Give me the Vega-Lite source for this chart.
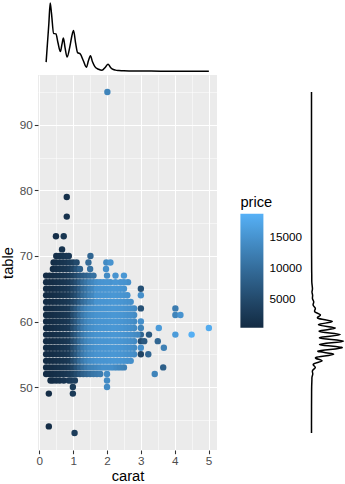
{
"$schema": "https://vega.github.io/schema/vega-lite/v6.json",
"padding": 0,
"background": "white",
"config": {"font": "Liberation Sans", "view": {"stroke": null}},
"datasets": {
"pts": [
{"carat":0.2,"table":52,"price":400},{"carat":0.3,"table":52,"price":500},{"carat":0.4,"table":52,"price":700},{"carat":0.5,"table":52,"price":1000},{"carat":0.6,"table":52,"price":1300},{"carat":0.7,"table":52,"price":1700},{"carat":0.8,"table":52,"price":2100},{"carat":0.9,"table":52,"price":2600},
{"carat":0.2,"table":53,"price":400},{"carat":0.3,"table":53,"price":500},{"carat":0.4,"table":53,"price":700},{"carat":0.5,"table":53,"price":1000},{"carat":0.6,"table":53,"price":1300},{"carat":0.7,"table":53,"price":1700},{"carat":0.8,"table":53,"price":2100},{"carat":0.9,"table":53,"price":2600},
{"carat":0.2,"table":54,"price":400},{"carat":0.3,"table":54,"price":500},{"carat":0.4,"table":54,"price":700},{"carat":0.5,"table":54,"price":1000},{"carat":0.6,"table":54,"price":1300},{"carat":0.7,"table":54,"price":1700},{"carat":0.8,"table":54,"price":2100},{"carat":0.9,"table":54,"price":2600},
{"carat":0.2,"table":55,"price":400},{"carat":0.3,"table":55,"price":500},{"carat":0.4,"table":55,"price":700},{"carat":0.5,"table":55,"price":1000},{"carat":0.6,"table":55,"price":1300},{"carat":0.7,"table":55,"price":1700},{"carat":0.8,"table":55,"price":2100},{"carat":0.9,"table":55,"price":2600},
{"carat":0.2,"table":56,"price":400},{"carat":0.3,"table":56,"price":500},{"carat":0.4,"table":56,"price":700},{"carat":0.5,"table":56,"price":1000},{"carat":0.6,"table":56,"price":1300},{"carat":0.7,"table":56,"price":1700},{"carat":0.8,"table":56,"price":2100},{"carat":0.9,"table":56,"price":2600},
{"carat":0.2,"table":57,"price":400},{"carat":0.3,"table":57,"price":500},{"carat":0.4,"table":57,"price":700},{"carat":0.5,"table":57,"price":1000},{"carat":0.6,"table":57,"price":1300},{"carat":0.7,"table":57,"price":1700},{"carat":0.8,"table":57,"price":2100},{"carat":0.9,"table":57,"price":2600},
{"carat":0.2,"table":58,"price":400},{"carat":0.3,"table":58,"price":500},{"carat":0.4,"table":58,"price":700},{"carat":0.5,"table":58,"price":1000},{"carat":0.6,"table":58,"price":1300},{"carat":0.7,"table":58,"price":1700},{"carat":0.8,"table":58,"price":2100},{"carat":0.9,"table":58,"price":2600},
{"carat":0.2,"table":59,"price":400},{"carat":0.3,"table":59,"price":500},{"carat":0.4,"table":59,"price":700},{"carat":0.5,"table":59,"price":1000},{"carat":0.6,"table":59,"price":1300},{"carat":0.7,"table":59,"price":1700},{"carat":0.8,"table":59,"price":2100},{"carat":0.9,"table":59,"price":2600},
{"carat":0.2,"table":60,"price":400},{"carat":0.3,"table":60,"price":500},{"carat":0.4,"table":60,"price":700},{"carat":0.5,"table":60,"price":1000},{"carat":0.6,"table":60,"price":1300},{"carat":0.7,"table":60,"price":1700},{"carat":0.8,"table":60,"price":2100},{"carat":0.9,"table":60,"price":2600},
{"carat":0.2,"table":61,"price":400},{"carat":0.3,"table":61,"price":500},{"carat":0.4,"table":61,"price":700},{"carat":0.5,"table":61,"price":1000},{"carat":0.6,"table":61,"price":1300},{"carat":0.7,"table":61,"price":1700},{"carat":0.8,"table":61,"price":2100},{"carat":0.9,"table":61,"price":2600},
{"carat":0.2,"table":62,"price":400},{"carat":0.3,"table":62,"price":500},{"carat":0.4,"table":62,"price":700},{"carat":0.5,"table":62,"price":1000},{"carat":0.6,"table":62,"price":1300},{"carat":0.7,"table":62,"price":1700},{"carat":0.8,"table":62,"price":2100},{"carat":0.9,"table":62,"price":2600},
{"carat":0.2,"table":63,"price":400},{"carat":0.3,"table":63,"price":500},{"carat":0.4,"table":63,"price":700},{"carat":0.5,"table":63,"price":1000},{"carat":0.6,"table":63,"price":1300},{"carat":0.7,"table":63,"price":1700},{"carat":0.8,"table":63,"price":2100},{"carat":0.9,"table":63,"price":2600},
{"carat":0.2,"table":64,"price":400},{"carat":0.3,"table":64,"price":500},{"carat":0.4,"table":64,"price":700},{"carat":0.5,"table":64,"price":1000},{"carat":0.6,"table":64,"price":1300},{"carat":0.7,"table":64,"price":1700},{"carat":0.8,"table":64,"price":2100},{"carat":0.9,"table":64,"price":2600},
{"carat":0.2,"table":65,"price":400},{"carat":0.3,"table":65,"price":500},{"carat":0.4,"table":65,"price":700},{"carat":0.5,"table":65,"price":1000},{"carat":0.6,"table":65,"price":1300},{"carat":0.7,"table":65,"price":1700},{"carat":0.8,"table":65,"price":2100},{"carat":0.9,"table":65,"price":2600},
{"carat":0.2,"table":66,"price":400},{"carat":0.3,"table":66,"price":500},{"carat":0.4,"table":66,"price":700},{"carat":0.5,"table":66,"price":1000},{"carat":0.6,"table":66,"price":1300},{"carat":0.7,"table":66,"price":1700},{"carat":0.8,"table":66,"price":2100},{"carat":0.9,"table":66,"price":2600},
{"carat":0.2,"table":67,"price":400},{"carat":0.3,"table":67,"price":500},{"carat":0.4,"table":67,"price":700},{"carat":0.5,"table":67,"price":1000},{"carat":0.6,"table":67,"price":1300},{"carat":0.7,"table":67,"price":1700},{"carat":0.8,"table":67,"price":2100},{"carat":0.9,"table":67,"price":2600},
{"carat":0.4,"table":68,"price":700},{"carat":0.5,"table":68,"price":1000},{"carat":0.6,"table":68,"price":1300},{"carat":0.7,"table":68,"price":1700},{"carat":0.8,"table":68,"price":2100},{"carat":0.9,"table":68,"price":2600},
{"carat":0.42,"table":69,"price":700},{"carat":0.5,"table":69,"price":1000},{"carat":0.6,"table":69,"price":1300},{"carat":0.7,"table":69,"price":1700},{"carat":0.8,"table":69,"price":2100},{"carat":0.9,"table":69,"price":2600},
{"carat":0.5,"table":70,"price":1000},{"carat":0.6,"table":70,"price":1300},{"carat":0.7,"table":70,"price":1700},{"carat":0.8,"table":70,"price":2100},{"carat":0.87,"table":70,"price":2400},
{"carat":0.67,"table":71,"price":1600},{"carat":0.49,"table":73,"price":1000},{"carat":0.72,"table":73,"price":2000},{"carat":0.81,"table":76,"price":1500},{"carat":0.81,"table":79,"price":1300},{"carat":2.01,"table":95,"price":13000},
{"carat":0.33,"table":51,"price":600},{"carat":0.4,"table":51,"price":700},{"carat":0.5,"table":51,"price":1000},{"carat":0.6,"table":51,"price":1300},{"carat":0.72,"table":51,"price":1800},{"carat":0.87,"table":51,"price":2400},{"carat":0.95,"table":51,"price":2800},{"carat":1.05,"table":51,"price":3300},{"carat":2.0,"table":51,"price":14000},
{"carat":0.99,"table":50,"price":2900},{"carat":2.0,"table":50,"price":14000},{"carat":0.28,"table":49,"price":700},{"carat":0.99,"table":49,"price":2600},{"carat":0.28,"table":44,"price":800},{"carat":1.04,"table":43,"price":3000},
{"carat":1.0,"table":52,"price":3500},{"carat":1.1,"table":52,"price":5000},{"carat":1.2,"table":52,"price":6500},{"carat":1.3,"table":52,"price":8000},{"carat":1.4,"table":52,"price":9000},{"carat":1.5,"table":52,"price":10000},{"carat":1.6,"table":52,"price":11000},{"carat":1.7,"table":52,"price":11500},{"carat":1.8,"table":52,"price":12000},{"carat":2.0,"table":52,"price":14000},{"carat":3.41,"table":52,"price":13000},
{"carat":1.0,"table":53,"price":4000},{"carat":1.1,"table":53,"price":6000},{"carat":1.2,"table":53,"price":8000},{"carat":1.3,"table":53,"price":10000},{"carat":1.4,"table":53,"price":11500},{"carat":1.5,"table":53,"price":12500},{"carat":1.6,"table":53,"price":13000},{"carat":1.7,"table":53,"price":13500},{"carat":1.8,"table":53,"price":14000},{"carat":1.9,"table":53,"price":14500},{"carat":2.0,"table":53,"price":14500},{"carat":2.1,"table":53,"price":14500},{"carat":2.2,"table":53,"price":14000},{"carat":2.3,"table":53,"price":13500},{"carat":2.4,"table":53,"price":13000},{"carat":2.5,"table":53,"price":12500},{"carat":3.66,"table":53,"price":8000},
{"carat":1.0,"table":54,"price":5000},{"carat":1.1,"table":54,"price":7000},{"carat":1.2,"table":54,"price":9500},{"carat":1.3,"table":54,"price":11500},{"carat":1.4,"table":54,"price":13000},{"carat":1.5,"table":54,"price":14000},{"carat":1.6,"table":54,"price":14500},{"carat":1.7,"table":54,"price":15000},{"carat":1.8,"table":54,"price":15200},{"carat":1.9,"table":54,"price":15300},{"carat":2.0,"table":54,"price":15300},{"carat":2.1,"table":54,"price":15400},{"carat":2.2,"table":54,"price":15500},{"carat":2.3,"table":54,"price":15400},{"carat":2.4,"table":54,"price":15300},{"carat":2.5,"table":54,"price":15000},{"carat":2.6,"table":54,"price":14800},{"carat":2.7,"table":54,"price":14500},
{"carat":1.0,"table":55,"price":5000},{"carat":1.1,"table":55,"price":7000},{"carat":1.2,"table":55,"price":9500},{"carat":1.3,"table":55,"price":11500},{"carat":1.4,"table":55,"price":13000},{"carat":1.5,"table":55,"price":14000},{"carat":1.6,"table":55,"price":14500},{"carat":1.7,"table":55,"price":15000},{"carat":1.8,"table":55,"price":15200},{"carat":1.9,"table":55,"price":15300},{"carat":2.0,"table":55,"price":15300},{"carat":2.1,"table":55,"price":15400},{"carat":2.2,"table":55,"price":15500},{"carat":2.3,"table":55,"price":15400},{"carat":2.4,"table":55,"price":15300},{"carat":2.5,"table":55,"price":15000},{"carat":2.6,"table":55,"price":14800},{"carat":2.7,"table":55,"price":14500},{"carat":2.8,"table":55,"price":14000},{"carat":3.0,"table":55,"price":4000},{"carat":3.22,"table":55,"price":9000},
{"carat":1.0,"table":56,"price":5000},{"carat":1.1,"table":56,"price":7000},{"carat":1.2,"table":56,"price":9500},{"carat":1.3,"table":56,"price":11500},{"carat":1.4,"table":56,"price":13000},{"carat":1.5,"table":56,"price":14000},{"carat":1.6,"table":56,"price":14500},{"carat":1.7,"table":56,"price":15000},{"carat":1.8,"table":56,"price":15200},{"carat":1.9,"table":56,"price":15300},{"carat":2.0,"table":56,"price":15300},{"carat":2.1,"table":56,"price":15400},{"carat":2.2,"table":56,"price":15500},{"carat":2.3,"table":56,"price":15400},{"carat":2.4,"table":56,"price":15300},{"carat":2.5,"table":56,"price":15000},{"carat":2.6,"table":56,"price":14800},{"carat":2.7,"table":56,"price":14500},{"carat":2.8,"table":56,"price":14000},{"carat":3.0,"table":56,"price":14500},{"carat":3.68,"table":56,"price":12500},
{"carat":1.0,"table":57,"price":5000},{"carat":1.1,"table":57,"price":7000},{"carat":1.2,"table":57,"price":9500},{"carat":1.3,"table":57,"price":11500},{"carat":1.4,"table":57,"price":13000},{"carat":1.5,"table":57,"price":14000},{"carat":1.6,"table":57,"price":14500},{"carat":1.7,"table":57,"price":15000},{"carat":1.8,"table":57,"price":15200},{"carat":1.9,"table":57,"price":15300},{"carat":2.0,"table":57,"price":15300},{"carat":2.1,"table":57,"price":15400},{"carat":2.2,"table":57,"price":15500},{"carat":2.3,"table":57,"price":15400},{"carat":2.4,"table":57,"price":15300},{"carat":2.5,"table":57,"price":15000},{"carat":2.6,"table":57,"price":14800},{"carat":2.7,"table":57,"price":14500},{"carat":2.8,"table":57,"price":14000},{"carat":3.0,"table":57,"price":5500},{"carat":3.1,"table":57,"price":7000},{"carat":3.5,"table":57,"price":9000},
{"carat":1.0,"table":58,"price":5000},{"carat":1.1,"table":58,"price":7000},{"carat":1.2,"table":58,"price":9500},{"carat":1.3,"table":58,"price":11500},{"carat":1.4,"table":58,"price":13000},{"carat":1.5,"table":58,"price":14000},{"carat":1.6,"table":58,"price":14500},{"carat":1.7,"table":58,"price":15000},{"carat":1.8,"table":58,"price":15200},{"carat":1.9,"table":58,"price":15300},{"carat":2.0,"table":58,"price":15300},{"carat":2.1,"table":58,"price":15400},{"carat":2.2,"table":58,"price":15500},{"carat":2.3,"table":58,"price":15400},{"carat":2.4,"table":58,"price":15300},{"carat":2.5,"table":58,"price":15000},{"carat":2.6,"table":58,"price":14800},{"carat":2.7,"table":58,"price":14500},{"carat":2.8,"table":58,"price":14000},{"carat":2.9,"table":58,"price":13500},{"carat":3.0,"table":58,"price":9000},{"carat":3.24,"table":58,"price":7000},{"carat":4.02,"table":58,"price":16000},{"carat":4.5,"table":58,"price":18531},
{"carat":1.0,"table":59,"price":5000},{"carat":1.1,"table":59,"price":7000},{"carat":1.2,"table":59,"price":9500},{"carat":1.3,"table":59,"price":11500},{"carat":1.4,"table":59,"price":13000},{"carat":1.5,"table":59,"price":14000},{"carat":1.6,"table":59,"price":14500},{"carat":1.7,"table":59,"price":15000},{"carat":1.8,"table":59,"price":15200},{"carat":1.9,"table":59,"price":15300},{"carat":2.0,"table":59,"price":15300},{"carat":2.1,"table":59,"price":15400},{"carat":2.2,"table":59,"price":15500},{"carat":2.3,"table":59,"price":15400},{"carat":2.4,"table":59,"price":15300},{"carat":2.5,"table":59,"price":15000},{"carat":2.6,"table":59,"price":14800},{"carat":2.7,"table":59,"price":14500},{"carat":2.8,"table":59,"price":14000},{"carat":3.0,"table":59,"price":13000},{"carat":3.53,"table":59,"price":16000},{"carat":5.01,"table":59,"price":18018},
{"carat":1.0,"table":60,"price":5000},{"carat":1.1,"table":60,"price":7000},{"carat":1.2,"table":60,"price":9500},{"carat":1.3,"table":60,"price":11500},{"carat":1.4,"table":60,"price":13000},{"carat":1.5,"table":60,"price":14000},{"carat":1.6,"table":60,"price":14500},{"carat":1.7,"table":60,"price":15000},{"carat":1.8,"table":60,"price":15200},{"carat":1.9,"table":60,"price":15300},{"carat":2.0,"table":60,"price":15300},{"carat":2.1,"table":60,"price":15400},{"carat":2.2,"table":60,"price":15500},{"carat":2.3,"table":60,"price":15400},{"carat":2.4,"table":60,"price":15300},{"carat":2.5,"table":60,"price":15000},{"carat":2.6,"table":60,"price":14800},{"carat":2.7,"table":60,"price":14500},{"carat":2.8,"table":60,"price":14000},{"carat":3.0,"table":60,"price":14500},
{"carat":1.0,"table":61,"price":5000},{"carat":1.1,"table":61,"price":7000},{"carat":1.2,"table":61,"price":9500},{"carat":1.3,"table":61,"price":11500},{"carat":1.4,"table":61,"price":13000},{"carat":1.5,"table":61,"price":14000},{"carat":1.6,"table":61,"price":14500},{"carat":1.7,"table":61,"price":15000},{"carat":1.8,"table":61,"price":15200},{"carat":1.9,"table":61,"price":15300},{"carat":2.0,"table":61,"price":15300},{"carat":2.1,"table":61,"price":15400},{"carat":2.2,"table":61,"price":15500},{"carat":2.3,"table":61,"price":15400},{"carat":2.4,"table":61,"price":15300},{"carat":2.5,"table":61,"price":15000},{"carat":2.6,"table":61,"price":14800},{"carat":2.7,"table":61,"price":14500},{"carat":2.8,"table":61,"price":14000},{"carat":4.02,"table":61,"price":13000},{"carat":4.17,"table":61,"price":15000},
{"carat":1.0,"table":62,"price":5000},{"carat":1.1,"table":62,"price":7000},{"carat":1.2,"table":62,"price":9500},{"carat":1.3,"table":62,"price":11500},{"carat":1.4,"table":62,"price":13000},{"carat":1.5,"table":62,"price":14000},{"carat":1.6,"table":62,"price":14500},{"carat":1.7,"table":62,"price":15000},{"carat":1.8,"table":62,"price":15200},{"carat":1.9,"table":62,"price":15300},{"carat":2.0,"table":62,"price":15300},{"carat":2.1,"table":62,"price":15400},{"carat":2.2,"table":62,"price":15500},{"carat":2.3,"table":62,"price":15400},{"carat":2.4,"table":62,"price":15300},{"carat":2.5,"table":62,"price":15000},{"carat":2.6,"table":62,"price":14800},{"carat":2.7,"table":62,"price":14500},{"carat":2.8,"table":62,"price":14000},{"carat":3.0,"table":62,"price":6000},{"carat":4.02,"table":62,"price":12000},
{"carat":1.0,"table":63,"price":4000},{"carat":1.1,"table":63,"price":5500},{"carat":1.2,"table":63,"price":7500},{"carat":1.3,"table":63,"price":9500},{"carat":1.4,"table":63,"price":11000},{"carat":1.5,"table":63,"price":12500},{"carat":1.6,"table":63,"price":13500},{"carat":1.7,"table":63,"price":15000},{"carat":1.8,"table":63,"price":15200},{"carat":1.9,"table":63,"price":15300},{"carat":2.0,"table":63,"price":15300},{"carat":2.1,"table":63,"price":15400},{"carat":2.2,"table":63,"price":15500},{"carat":2.3,"table":63,"price":15400},{"carat":2.4,"table":63,"price":15300},{"carat":2.5,"table":63,"price":15000},{"carat":2.6,"table":63,"price":14800},{"carat":2.7,"table":63,"price":14500},
{"carat":1.0,"table":64,"price":4000},{"carat":1.1,"table":64,"price":5500},{"carat":1.2,"table":64,"price":7500},{"carat":1.3,"table":64,"price":9500},{"carat":1.4,"table":64,"price":11000},{"carat":1.5,"table":64,"price":12500},{"carat":1.6,"table":64,"price":13500},{"carat":1.7,"table":64,"price":15000},{"carat":1.8,"table":64,"price":15200},{"carat":1.9,"table":64,"price":15300},{"carat":2.0,"table":64,"price":15300},{"carat":2.1,"table":64,"price":15400},{"carat":2.2,"table":64,"price":15500},{"carat":2.3,"table":64,"price":15400},{"carat":2.4,"table":64,"price":15300},{"carat":2.5,"table":64,"price":15000},{"carat":2.6,"table":64,"price":14800},{"carat":3.0,"table":64,"price":14500},
{"carat":1.0,"table":65,"price":4000},{"carat":1.1,"table":65,"price":5500},{"carat":1.2,"table":65,"price":7500},{"carat":1.3,"table":65,"price":9500},{"carat":1.4,"table":65,"price":11000},{"carat":1.5,"table":65,"price":12500},{"carat":1.6,"table":65,"price":13500},{"carat":1.7,"table":65,"price":15000},{"carat":1.8,"table":65,"price":15200},{"carat":1.9,"table":65,"price":15300},{"carat":2.0,"table":65,"price":15300},{"carat":2.1,"table":65,"price":15400},{"carat":2.2,"table":65,"price":15500},{"carat":2.3,"table":65,"price":15400},{"carat":2.4,"table":65,"price":15300},{"carat":2.5,"table":65,"price":15000},{"carat":3.0,"table":65,"price":6000},
{"carat":1.0,"table":66,"price":4000},{"carat":1.1,"table":66,"price":5500},{"carat":1.2,"table":66,"price":7500},{"carat":1.3,"table":66,"price":9500},{"carat":1.4,"table":66,"price":11000},{"carat":1.5,"table":66,"price":12500},{"carat":1.6,"table":66,"price":13500},{"carat":1.7,"table":66,"price":14500},{"carat":1.8,"table":66,"price":15000},{"carat":1.9,"table":66,"price":15200},{"carat":2.0,"table":66,"price":15300},{"carat":2.1,"table":66,"price":15000},{"carat":2.25,"table":66,"price":15400},{"carat":2.4,"table":66,"price":15200},{"carat":2.5,"table":66,"price":15000},{"carat":2.62,"table":66,"price":14500},
{"carat":1.0,"table":67,"price":3500},{"carat":1.1,"table":67,"price":5000},{"carat":1.2,"table":67,"price":6500},{"carat":1.3,"table":67,"price":7500},{"carat":1.4,"table":67,"price":8500},{"carat":1.5,"table":67,"price":9500},{"carat":1.6,"table":67,"price":10500},{"carat":2.0,"table":67,"price":14000},{"carat":2.25,"table":67,"price":15000},{"carat":2.5,"table":67,"price":15500},
{"carat":1.0,"table":68,"price":4000},{"carat":1.1,"table":68,"price":6000},{"carat":1.2,"table":68,"price":8000},{"carat":1.5,"table":68,"price":10500},{"carat":1.97,"table":68,"price":14500},
{"carat":1.0,"table":69,"price":3500},{"carat":1.1,"table":69,"price":5000},{"carat":1.45,"table":69,"price":9500},{"carat":1.98,"table":69,"price":14000},{"carat":2.1,"table":69,"price":15000},
{"carat":1.51,"table":70,"price":9000}
],
"dcarat": [
{"carat":0.2,"density":0.27},{"carat":0.24,"density":0.84},{"carat":0.28,"density":1.4},{"carat":0.32,"density":2.01},{"carat":0.36,"density":1.69},{"carat":0.42,"density":1.12},{"carat":0.49,"density":1.1},{"carat":0.55,"density":0.84},{"carat":0.62,"density":0.58},{"carat":0.67,"density":0.81},{"carat":0.71,"density":0.98},{"carat":0.76,"density":0.69},{"carat":0.82,"density":0.42},{"carat":0.9,"density":0.72},{"carat":0.96,"density":1.04},{"carat":1.01,"density":1.2},{"carat":1.07,"density":0.84},{"carat":1.13,"density":0.55},{"carat":1.21,"density":0.51},{"carat":1.3,"density":0.31},{"carat":1.39,"density":0.12},{"carat":1.45,"density":0.31},{"carat":1.51,"density":0.46},{"carat":1.57,"density":0.28},{"carat":1.64,"density":0.14},{"carat":1.75,"density":0.06},{"carat":1.85,"density":0.03},{"carat":1.95,"density":0.12},{"carat":2.03,"density":0.21},{"carat":2.1,"density":0.12},{"carat":2.15,"density":0.07},{"carat":2.25,"density":0.035},{"carat":2.35,"density":0.024},{"carat":2.5,"density":0.015},{"carat":2.8,"density":0.01},{"carat":3.0,"density":0.012},{"carat":3.3,"density":0.006},{"carat":3.6,"density":0.004},{"carat":4.0,"density":0.004},{"carat":4.5,"density":0.002},{"carat":5.01,"density":0.001}
],
"dtable": [
{"table":43,"density":0},{"table":45,"density":0},{"table":47,"density":0.001},{"table":49,"density":0.003},{"table":50,"density":0.005},{"table":51,"density":0.012},{"table":51.5,"density":0.015},{"table":52,"density":0.04},{"table":52.5,"density":0.03},{"table":53,"density":0.12},{"table":53.5,"density":0.06},{"table":54,"density":0.33},{"table":54.5,"density":0.13},{"table":55,"density":0.69},{"table":55.5,"density":0.2},{"table":56,"density":0.96},{"table":56.5,"density":0.25},{"table":57,"density":1.0},{"table":57.5,"density":0.25},{"table":58,"density":0.9},{"table":58.5,"density":0.24},{"table":59,"density":0.75},{"table":59.5,"density":0.22},{"table":60,"density":0.65},{"table":60.5,"density":0.2},{"table":61,"density":0.28},{"table":61.5,"density":0.1},{"table":62,"density":0.12},{"table":62.5,"density":0.05},{"table":63,"density":0.07},{"table":63.5,"density":0.03},{"table":64,"density":0.035},{"table":64.5,"density":0.015},{"table":65,"density":0.03},{"table":66,"density":0.01},{"table":67,"density":0.008},{"table":68,"density":0.005},{"table":70,"density":0.003},{"table":73,"density":0.001},{"table":76,"density":0},{"table":80,"density":0},{"table":85,"density":0},{"table":90,"density":0},{"table":95,"density":0}
]
},
"bounds": "flush",
"spacing": 3,
"resolve": {"scale": {"color": "independent"}, "legend": {"color": "independent"}},
"vconcat": [
{
"width": 179, "height": 72,
"data": {"name": "dcarat"},
"mark": {"type": "line", "color": "black", "strokeWidth": 1.5, "interpolate": "monotone"},
"encoding": {
"x": {"field": "carat", "type": "quantitative", "scale": {"domain": [-0.0405, 5.2505], "nice": false, "zero": false}, "axis": null},
"y": {"field": "density", "type": "quantitative", "scale": {"domain": [-0.02, 2.1], "nice": false, "zero": false}, "axis": null}
}
},
{
"bounds": "flush",
"spacing": 88.5,
"resolve": {"scale": {"color": "independent"}, "legend": {"color": "independent"}},
"hconcat": [
{
"width": 179, "height": 375,
"view": {"fill": "#EBEBEB", "stroke": null},
"data": {"name": "pts"},
"mark": {"type": "circle", "size": 41, "opacity": 1},
"encoding": {
"x": {"field": "carat", "type": "quantitative",
"scale": {"domain": [-0.0405, 5.2505], "nice": false, "zero": false},
"axis": {"title": "carat", "values": [0, 0.5, 1, 1.5, 2, 2.5, 3, 3.5, 4, 4.5, 5],
"labelExpr": "datum.value % 1 === 0 ? format(datum.value, 'd') : ''",
"grid": true, "gridColor": "white",
"gridWidth": {"condition": {"test": "datum.value % 1 !== 0", "value": 0.53}, "value": 1.07},
"tickOpacity": {"condition": {"test": "datum.value % 1 !== 0", "value": 0}, "value": 1},
"domain": false, "tickSize": 3.7, "tickColor": "#333333", "tickWidth": 1.07,
"labelColor": "#4D4D4D", "labelFontSize": 11.7, "labelPadding": 2, "labelOverlap": false, "labelFlush": false,
"titleFontSize": 14.7, "titleFontWeight": "normal", "titleColor": "black", "titlePadding": 1}},
"y": {"field": "table", "type": "quantitative",
"scale": {"domain": [40.4, 97.6], "nice": false, "zero": false},
"axis": {"title": "table", "values": [45, 50, 55, 60, 65, 70, 75, 80, 85, 90, 95],
"labelExpr": "datum.value % 10 === 0 ? format(datum.value, 'd') : ''",
"grid": true, "gridColor": "white",
"gridWidth": {"condition": {"test": "datum.value % 10 !== 0", "value": 0.53}, "value": 1.07},
"tickOpacity": {"condition": {"test": "datum.value % 10 !== 0", "value": 0}, "value": 1},
"domain": false, "tickSize": 3.7, "tickColor": "#333333", "tickWidth": 1.07,
"labelColor": "#4D4D4D", "labelFontSize": 11.7, "labelPadding": 2, "labelOverlap": false, "labelFlush": false,
"titleFontSize": 14.7, "titleFontWeight": "normal", "titleColor": "black", "titlePadding": 4}},
"color": {"field": "price", "type": "quantitative",
"scale": {"domain": [326, 18823], "range": ["#132B43", "#56B1F7"], "interpolate": "lab"},
"legend": {"orient": "none", "legendX": 202.4, "legendY": 120, "direction": "vertical", "title": "price", "format": "d",
"titleFontSize": 14.7, "titleFontWeight": "normal", "titleColor": "black", "titlePadding": 4,
"gradientLength": 114, "gradientThickness": 23, "gradientStrokeWidth": 0,
"labelFontSize": 11.7, "labelColor": "black", "labelOffset": 6, "values": [5000, 10000, 15000], "padding": 0}},
"order": {"field": "price", "type": "quantitative"}
}
},
{
"width": 40, "height": 375,
"data": {"name": "dtable"},
"mark": {"type": "line", "color": "black", "strokeWidth": 1.5, "interpolate": "cardinal"},
"encoding": {
"x": {"field": "density", "type": "quantitative", "scale": {"domain": [-0.1875, 1.0625], "nice": false, "zero": false}, "axis": null},
"y": {"field": "table", "type": "quantitative", "scale": {"domain": [40.4, 97.6], "nice": false, "zero": false}, "axis": null},
"order": {"field": "table", "type": "quantitative"}
}
}
]
}
]
}
